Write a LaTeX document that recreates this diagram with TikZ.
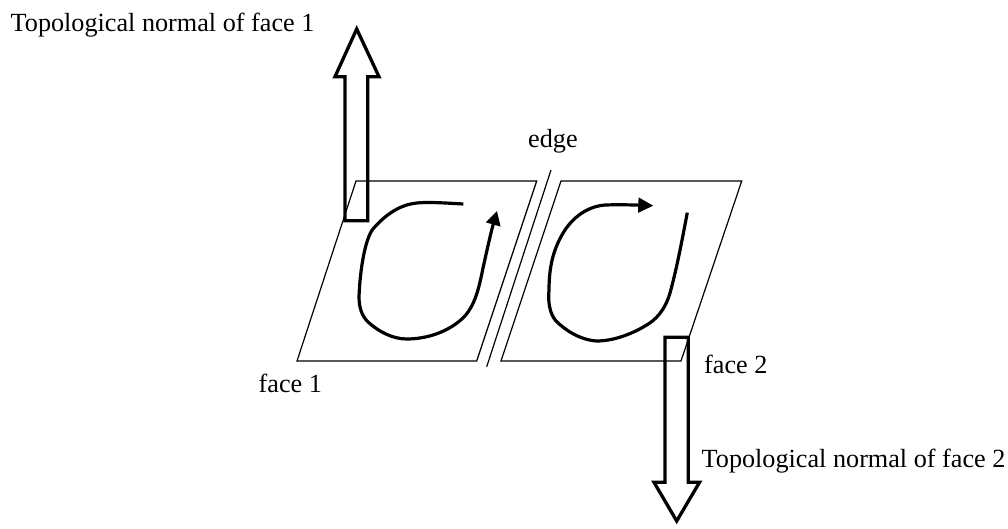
\documentclass[tikz,border=0pt]{standalone}
\usepackage{fontspec}
\setmainfont{Liberation Serif}
\usetikzlibrary{arrows.meta}
\tikzset{
  face/.style={draw=black,line width=1.2pt,line join=miter},
  edgeline/.style={draw=black,line width=1.2pt},
  loopline/.style={draw=black,line width=3.2pt,line join=round},
  normalarrow/.style={draw=black,line width=3.3pt,line join=miter,miter limit=10},
  lbl/.style={font=\fontsize{26.2}{30}\selectfont,inner sep=0pt,anchor=base west}
}
\begin{document}
\begin{tikzpicture}[x=1pt,y=-1pt]
\useasboundingbox (0,0) rectangle (1008,529);
\coordinate (f1a) at (297,361);
\coordinate (f1b) at (356,181);
\coordinate (f1c) at (536.7,181);
\coordinate (f1d) at (476.7,361);
\coordinate (f2a) at (501,361);
\coordinate (f2b) at (561,181);
\coordinate (f2c) at (741.7,181);
\coordinate (f2d) at (681,361);
\coordinate (e1) at (551,170);
\coordinate (e2) at (486.7,366.7);
\draw[face] (f1a) -- (f1b) -- (f1c) -- (f1d) -- cycle;
\draw[face] (f2a) -- (f2b) -- (f2c) -- (f2d) -- cycle;
\draw[edgeline] (e1) -- (e2);
\draw[normalarrow] (345,220.7) -- (345,76.7) -- (335,76.7) -- (356.7,29) -- (379,76.7) -- (367.7,76.7) -- (367.7,220.7) -- cycle;
\draw[normalarrow] (665,337.3) -- (665,482.3) -- (654,482.3) -- (676.7,521) -- (699.5,482.3) -- (688.3,482.3) -- (688.3,337.3) -- cycle;
\draw[loopline,-{Triangle[length=14pt,width=14.5pt]}] (463.3,204) .. controls (445,203) and (425,201.5) .. (413,203.5) .. controls (398,206) and (384,216) .. (373,229) .. controls (365,239) and (360,270) .. (359,296.7) .. controls (359,308) and (362,316) .. (368,322) .. controls (378,331) and (392,339) .. (406.7,339) .. controls (425,339) and (447,333) .. (463,318) .. controls (475,306) and (479,288) .. (483,268) .. controls (487,250) and (491,232) .. (497,211);
\draw[loopline,-{Triangle[length=15pt,width=14.5pt]}] (687.3,212.7) .. controls (683,235) and (677,268) .. (670,293) .. controls (665,310) and (656,320) .. (645,326) .. controls (630,335) and (612,341) .. (596.7,341) .. controls (580,340) and (565,330) .. (556,321) .. controls (549,313) and (548,300) .. (549,290) .. controls (549,265) and (554,247) .. (565,230) .. controls (575,215) and (590,206) .. (605,205) .. controls (620,204.5) and (635,205) .. (653.3,205.7);
\node[lbl] (t1) at (10.5,32) {Topological normal of face 1};
\node[lbl] (t2) at (701.5,467) {Topological normal of face 2};
\node[lbl] (ed) at (528,147.7) {edge};
\node[lbl] (fa) at (258.5,392.7) {face 1};
\node[lbl] (fb) at (704,373) {face 2};
\end{tikzpicture}
\end{document}
